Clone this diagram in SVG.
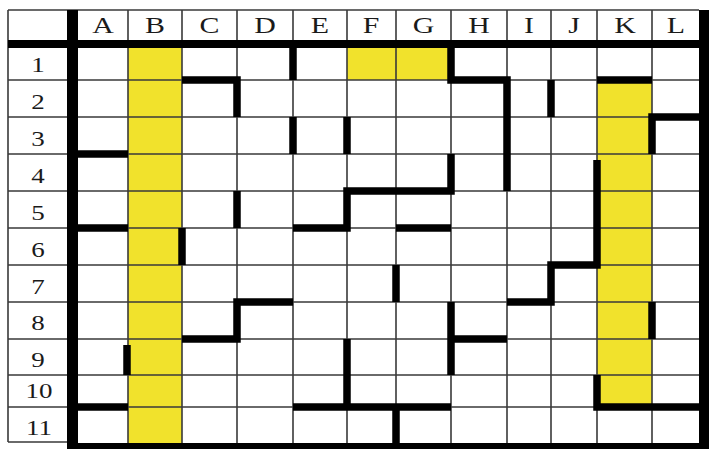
<svg xmlns="http://www.w3.org/2000/svg" width="709" height="449" viewBox="0 0 709 449">
<style>
.thin{stroke:#3a3a3a;stroke-width:1.6;fill:none}
.wall{stroke:#000;stroke-width:7.5;fill:none;stroke-linecap:butt;stroke-linejoin:miter}
.yel{fill:#F1E22C}
.hd{font-family:"Liberation Serif","Times New Roman",serif;font-size:23px;fill:#1a1a1a;text-anchor:middle}
.rw{font-family:"Liberation Serif","Times New Roman",serif;font-size:20px;fill:#1a1a1a;text-anchor:middle}
</style>
<rect width="709" height="449" fill="#fff"/>
<g id="highlights">
<rect class="yel" x="128" y="48" width="54" height="395"/>
<rect class="yel" x="347" y="48" width="104" height="32"/>
<rect class="yel" x="597" y="80" width="55" height="327"/>
</g>
<g id="grid">
<path class="thin" d="M8 10H699M8 10V442M8 442H67
M8 80H67M8 117H67M8 154H67M8 191H67M8 228H67M8 265H67M8 302H67M8 339H67M8 375H67M8 407H67
M128 10V40M182 10V40M237 10V40M293 10V40M347 10V40M396 10V40M451 10V40M507 10V40M551 10V40M597 10V40M652 10V40
M78 80H699M78 117H699M78 154H699M78 191H699M78 228H699M78 265H699M78 302H699M78 339H699M78 375H699M78 407H699
M128 48V443M182 48V443M237 48V443M293 48V443M347 48V443M396 48V443M451 48V443M507 48V443M551 48V443M597 48V443M652 48V443"/>
<rect x="67" y="10" width="11" height="439" fill="#000"/>
<rect x="8" y="40" width="701" height="8" fill="#000"/>
<rect x="699" y="10" width="10" height="439" fill="#000"/>
<rect x="67" y="443" width="642" height="6" fill="#000"/>
</g>
<g id="walls">
<path class="wall" d="M293 48V80"/>
<path class="wall" d="M182 80H237V117"/>
<path class="wall" d="M293 117V154"/>
<path class="wall" d="M347 117V154"/>
<path class="wall" d="M78 154H128"/>
<path class="wall" d="M451 48V80H507V191"/>
<path class="wall" d="M551 80V117"/>
<path class="wall" d="M597 80H652"/>
<path class="wall" d="M699 117H652V154"/>
<path class="wall" d="M237 191V228"/>
<path class="wall" d="M78 228H128"/>
<path class="wall" d="M182 228V265"/>
<path class="wall" d="M293 228H347V191H451V154"/>
<path class="wall" d="M396 228H451"/>
<path class="wall" d="M597 160V265H551V302H507"/>
<path class="wall" d="M396 265V302"/>
<path class="wall" d="M293 302H237V339H182"/>
<path class="wall" d="M652 302V339"/>
<path class="wall" d="M451 302V375M451 339H507"/>
<path class="wall" d="M127 345V375"/>
<path class="wall" d="M347 339V407M293 407H451M396 407V443"/>
<path class="wall" d="M78 407H128"/>
<path class="wall" d="M597 375V407H699"/>
</g>
<g id="col-labels">
<text class="hd" transform="translate(103,33) scale(1.3,1)">A</text>
<text class="hd" transform="translate(155,33) scale(1.3,1)">B</text>
<text class="hd" transform="translate(209.5,33) scale(1.3,1)">C</text>
<text class="hd" transform="translate(265,33) scale(1.3,1)">D</text>
<text class="hd" transform="translate(320,33) scale(1.3,1)">E</text>
<text class="hd" transform="translate(371,33) scale(1.3,1)">F</text>
<text class="hd" transform="translate(423.5,33) scale(1.3,1)">G</text>
<text class="hd" transform="translate(479,33) scale(1.3,1)">H</text>
<text class="hd" transform="translate(529,33) scale(1.3,1)">I</text>
<text class="hd" transform="translate(574,33) scale(1.3,1)">J</text>
<text class="hd" transform="translate(625,33) scale(1.3,1)">K</text>
<text class="hd" transform="translate(676,33) scale(1.3,1)">L</text>
</g>
<g id="row-labels">
<text class="rw" transform="translate(38,72) scale(1.35,1)">1</text>
<text class="rw" transform="translate(38,109) scale(1.35,1)">2</text>
<text class="rw" transform="translate(38,146) scale(1.35,1)">3</text>
<text class="rw" transform="translate(38,183) scale(1.35,1)">4</text>
<text class="rw" transform="translate(38,220) scale(1.35,1)">5</text>
<text class="rw" transform="translate(38,257) scale(1.35,1)">6</text>
<text class="rw" transform="translate(38,294) scale(1.35,1)">7</text>
<text class="rw" transform="translate(38,330) scale(1.35,1)">8</text>
<text class="rw" transform="translate(38,367) scale(1.35,1)">9</text>
<text class="rw" transform="translate(39,398) scale(1.35,1)">10</text>
<text class="rw" transform="translate(39,435) scale(1.35,1)">11</text>
</g>
</svg>
